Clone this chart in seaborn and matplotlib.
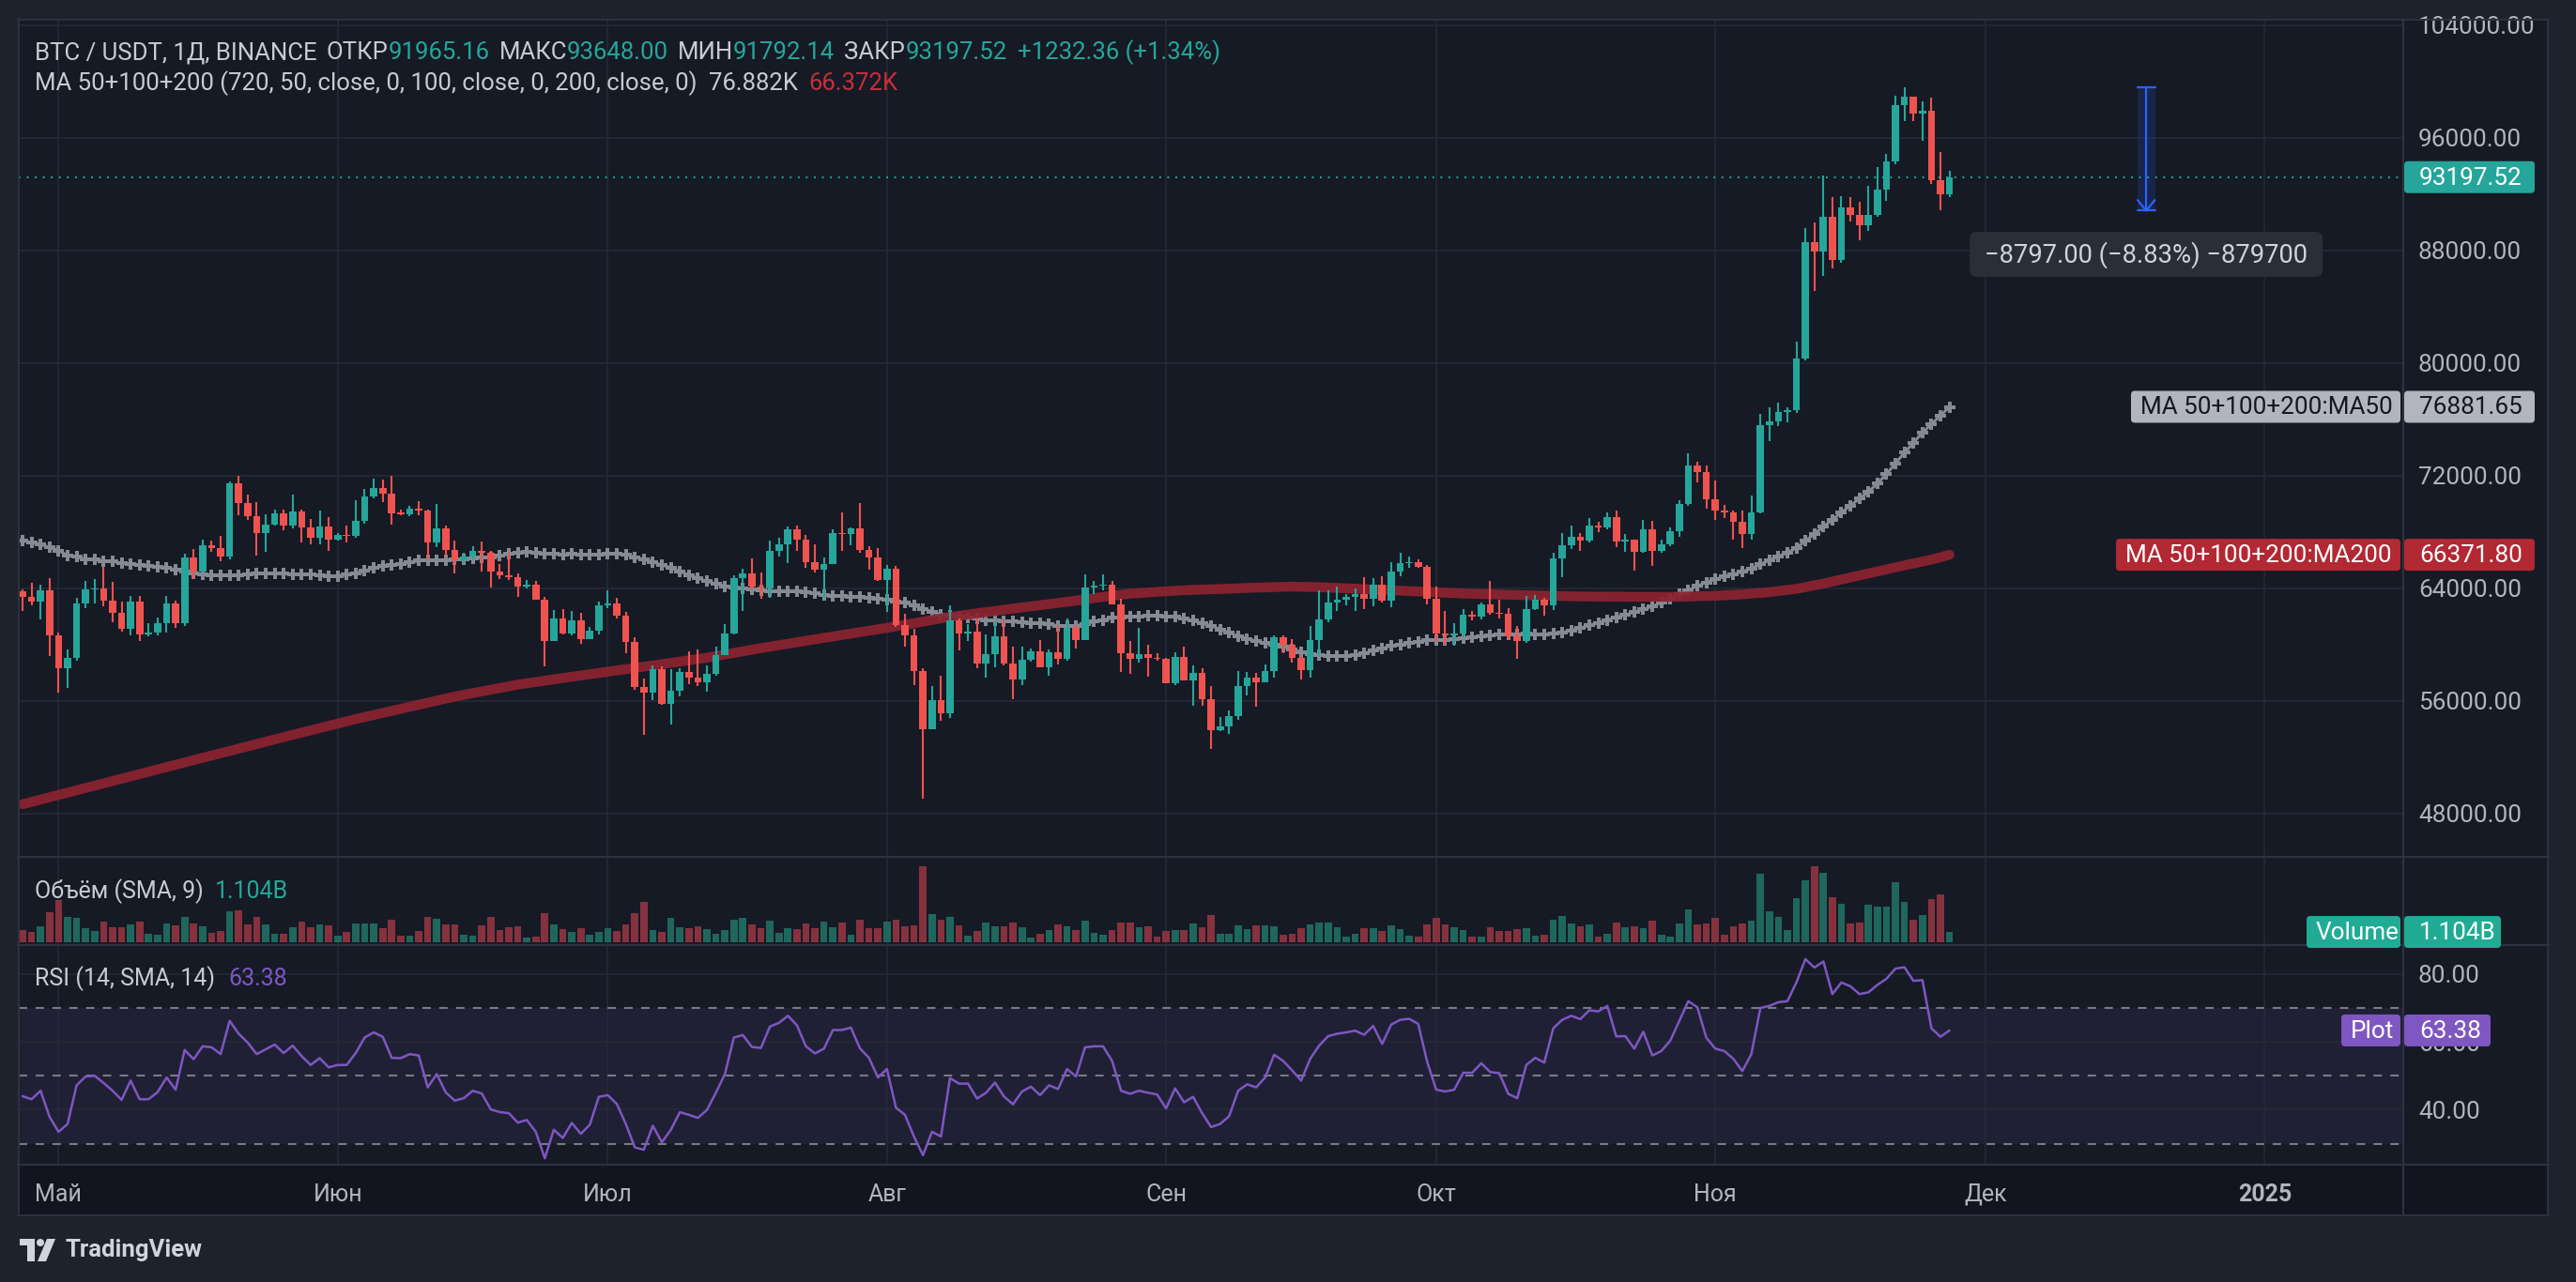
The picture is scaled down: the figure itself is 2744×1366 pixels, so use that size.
import numpy as np
import pandas as pd
import matplotlib
matplotlib.use("Agg")
import matplotlib.pyplot as plt
import seaborn as sns
from matplotlib.patches import Rectangle, FancyBboxPatch, Polygon, Circle
from matplotlib.lines import Line2D
from matplotlib.transforms import IdentityTransform

# BTC/USDT daily candles, 27 Apr - 27 Nov 2024
first_day = "2024-04-27"
first_open = 63778
closes = [
    63400, 63067, 63845, 60667, 58335, 59046, 62890, 63890, 64000, 63112,
    62268, 61112, 63045, 60734, 60846, 61512, 62912, 61512, 66156, 65156,
    67045, 66845, 66223, 71445, 70067, 69111, 67934, 68511, 69289, 68445,
    69445, 68334, 67600, 68378, 67445, 67778, 67712, 68778, 70511, 71111,
    70734, 69334, 69267, 69667, 69511, 67267, 68222, 66734, 65956, 66222,
    66622, 66489, 65156, 64934, 64800, 64111, 64223, 63178, 60267, 61845,
    60778, 61712, 60400, 60978, 62778, 62889, 62067, 60178, 57000, 56600,
    58267, 55778, 56712, 58045, 57667, 57334, 57889, 59267, 60778, 64712,
    65045, 64112, 63956, 66622, 67111, 68178, 67445, 65845, 65289, 65734,
    67889, 67845, 68222, 66734, 66156, 64600, 65378, 61400, 60667, 58112,
    54000, 56045, 55112, 61712, 60778, 60889, 58667, 59334, 60556, 58667,
    57534, 58890, 59512, 58401, 59445, 59000, 61156, 60334, 64045, 64178,
    64267, 62823, 59401, 59000, 59334, 59068, 58957, 57267, 59112, 57445,
    57956, 56112, 53934, 54178, 54890, 57045, 57667, 57334, 58112, 60512,
    59956, 59068, 58179, 60289, 61778, 62956, 63156, 63378, 63601, 63267,
    64267, 63112, 65178, 65778, 65845, 65512, 63267, 60778, 60623, 60778,
    62112, 62001, 62845, 62223, 62156, 60556, 60267, 62512, 63178, 62778,
    66112, 67045, 67623, 67401, 68445, 68334, 69045, 67334, 67423, 66601,
    68156, 66667, 67112, 68045, 70000, 72711, 72267, 70289, 69489, 69378,
    68734, 67823, 69373, 75590, 75871, 76528, 76645, 80329, 88610, 87906,
    90370, 87320, 91050, 90534, 89783, 90487, 92293, 94287, 98323, 98933,
    97689, 97924, 92997, 91965.16, 93197.52,
]
highs = [
    63934, 64378, 64223, 64712, 60846, 59668, 63290, 64512, 64667, 65490,
    64445, 63045, 63445, 63445, 61512, 61890, 63445, 63112, 66445, 66778,
    67445, 67378, 67712, 71556, 72000, 70622, 70111, 69222, 69556, 69556,
    70622, 69600, 68889, 69512, 69045, 67890, 68445, 70267, 71045, 71778,
    71711, 71956, 69600, 69845, 70178, 69600, 69956, 68445, 67378, 66489,
    66956, 67289, 66622, 65712, 66489, 65045, 64578, 64489, 63378, 62445,
    62512, 62378, 62223, 61223, 63045, 63845, 63312, 62290, 60489, 57556,
    58489, 58445, 58267, 58334, 59512, 59667, 58512, 59845, 61445, 64889,
    65378, 66111, 65112, 67378, 67556, 68400, 68445, 67778, 67111, 66156,
    68178, 69378, 68334, 70045, 66956, 66823, 65623, 65556, 62178, 61112,
    58312, 57067, 57778, 62778, 61823, 61445, 61823, 60712, 61623, 61778,
    59845, 59845, 59712, 60289, 59623, 61400, 61823, 61400, 64956, 64512,
    64956, 64512, 63223, 60223, 61156, 59956, 59401, 59068, 59445, 59845,
    58512, 58312, 57045, 54845, 55334, 58112, 58045, 57956, 58601, 60667,
    60667, 60378, 59223, 61290, 63845, 63845, 64112, 63601, 64000, 64778,
    64712, 64845, 65845, 66489, 66222, 66045, 65667, 64112, 62401, 61512,
    62490, 62401, 63001, 64490, 63178, 62556, 61290, 63445, 63490, 63334,
    66489, 67889, 68445, 67889, 68956, 68712, 69378, 69512, 67823, 67423,
    68845, 68756, 67445, 68289, 70223, 73556, 72956, 72711, 71623, 69890,
    69489, 69536, 70593, 76387, 76856, 77209, 76856, 81502, 89595, 89994,
    93302, 91777, 91871, 91777, 91472, 92575, 93935, 94874, 98979, 99613,
    98933, 98581, 98862, 94991, 93648.00,
]
lows = [
    62378, 62778, 61778, 59179, 56601, 56935, 58846, 62600, 62890, 62734,
    61601, 60934, 60667, 60223, 60557, 60667, 60823, 61179, 61334, 64623,
    65112, 66556, 65890, 66067, 69178, 68845, 66334, 66601, 68445, 68112,
    68267, 67267, 67112, 67112, 66667, 67400, 67267, 67600, 68600, 70400,
    70111, 68489, 69178, 69111, 69178, 66045, 66934, 66267, 65067, 65778,
    66045, 65156, 64067, 64667, 64600, 63400, 64000, 63178, 58445, 60267,
    60711, 60667, 60067, 60400, 60734, 62556, 61845, 59378, 56778, 53556,
    56067, 55712, 54334, 56334, 57178, 57067, 56623, 57778, 59267, 60711,
    62378, 63890, 63267, 63334, 66267, 65778, 66622, 65445, 65112, 63334,
    65734, 66667, 67067, 66489, 65334, 64512, 62334, 61267, 59845, 57112,
    49068, 54000, 54601, 54779, 59601, 60267, 58334, 57667, 58401, 58490,
    56112, 57112, 58779, 58401, 57778, 58601, 58823, 59712, 60334, 63556,
    63823, 62823, 58068, 57889, 58734, 57734, 58823, 57267, 57112, 57445,
    55667, 55667, 52601, 53823, 53667, 54623, 56401, 55601, 57334, 57667,
    59401, 58734, 57512, 57667, 59179, 61601, 62378, 62779, 62401, 62512,
    62734, 63001, 62667, 64845, 65445, 65445, 62845, 60178, 59956, 59890,
    60490, 61734, 61778, 62112, 61845, 60334, 59001, 60112, 62445, 62045,
    62445, 64778, 66778, 66667, 67223, 68000, 68156, 66889, 66601, 65267,
    66512, 65601, 66489, 66956, 67667, 69823, 71489, 69667, 68845, 69001,
    67445, 66839, 67426, 69300, 74417, 75520, 75754, 76458, 80211, 85091,
    86194, 86710, 87085, 90065, 88727, 89361, 90370, 91543, 94100, 97173,
    97173, 95765, 92716, 90816, 91792.14,
]
# volume in billions USDT
volumes_b = [
    1.30, 1.10, 1.71, 3.21, 4.52, 2.71, 2.61, 1.51, 1.20, 2.21,
    1.61, 1.61, 1.91, 2.21, 0.90, 0.80, 2.01, 1.81, 2.71, 2.01,
    1.71, 1.00, 1.20, 3.31, 3.41, 1.91, 2.71, 1.91, 0.90, 0.90,
    1.61, 2.21, 1.61, 1.91, 1.81, 0.70, 1.10, 2.01, 2.01, 2.01,
    1.51, 2.41, 0.70, 0.70, 1.20, 2.71, 2.51, 1.91, 1.91, 0.80,
    0.70, 1.81, 2.71, 1.30, 1.61, 1.71, 0.50, 0.60, 3.11, 1.91,
    1.40, 1.10, 1.51, 0.80, 1.10, 1.51, 1.20, 1.91, 3.11, 4.32,
    1.30, 1.10, 2.61, 1.61, 1.51, 1.71, 1.40, 0.90, 1.30, 2.41,
    2.61, 1.91, 1.51, 2.31, 1.00, 1.51, 1.40, 2.01, 1.51, 2.21,
    1.61, 2.11, 0.80, 2.41, 1.51, 1.51, 2.21, 2.41, 1.71, 1.81,
    8.16, 3.01, 2.41, 2.71, 1.81, 0.70, 1.20, 2.11, 1.71, 1.71,
    2.11, 1.61, 0.50, 0.90, 1.30, 1.91, 1.71, 1.30, 2.31, 1.00,
    0.80, 1.30, 2.11, 2.11, 1.61, 1.71, 0.60, 1.20, 1.30, 1.30,
    2.01, 1.61, 2.91, 0.90, 0.90, 1.81, 1.40, 1.81, 1.81, 1.71,
    0.80, 0.90, 1.51, 1.91, 2.11, 2.11, 1.61, 0.60, 0.90, 1.51,
    1.51, 1.20, 1.81, 1.40, 0.70, 0.60, 1.91, 2.61, 1.91, 1.61,
    1.30, 0.60, 0.60, 1.61, 1.20, 1.20, 1.40, 1.51, 0.70, 0.80,
    2.41, 2.81, 2.01, 1.71, 1.91, 0.60, 0.90, 2.11, 1.61, 1.71,
    1.51, 2.31, 0.80, 0.60, 2.01, 3.51, 1.91, 2.01, 2.61, 0.80,
    1.71, 2.01, 2.31, 7.33, 3.31, 2.71, 1.30, 4.72, 6.62, 8.13,
    7.43, 4.82, 4.11, 2.01, 2.11, 4.01, 3.81, 3.81, 6.42, 4.32,
    2.41, 2.91, 4.62, 5.12, 1.104,
]
rsi = [
    44.0, 43.1, 45.6, 37.9, 33.5, 35.8, 47.2, 49.8, 50.0, 47.9,
    45.6, 42.9, 48.6, 43.1, 43.1, 45.2, 49.5, 45.9, 57.6, 54.9,
    58.7, 58.4, 56.4, 66.2, 62.4, 59.8, 56.4, 57.8, 59.2, 56.7,
    58.9, 55.8, 53.2, 55.2, 52.5, 53.2, 53.2, 56.7, 61.3, 62.8,
    61.5, 55.3, 55.2, 56.4, 56.0, 46.6, 50.5, 45.1, 42.7, 43.4,
    45.6, 44.8, 40.1, 39.3, 39.0, 36.2, 37.0, 33.5, 25.7, 34.1,
    31.7, 36.1, 32.9, 35.6, 43.8, 44.3, 41.7, 35.8, 28.9, 28.2,
    35.3, 30.4, 34.1, 39.3, 38.5, 37.6, 39.9, 45.0, 50.5, 61.3,
    62.0, 58.5, 58.2, 64.5, 65.6, 67.7, 64.9, 58.7, 56.6, 58.0,
    63.5, 63.5, 64.2, 58.1, 55.3, 49.5, 52.0, 40.6, 38.5, 32.1,
    26.6, 33.5, 32.1, 49.3, 47.7, 47.7, 43.3, 45.0, 48.0, 43.9,
    41.6, 45.4, 46.8, 44.3, 47.2, 46.1, 52.0, 49.8, 58.4, 58.7,
    58.7, 54.4, 45.6, 44.7, 45.6, 45.0, 44.5, 40.4, 46.3, 42.2,
    43.8, 39.0, 34.9, 35.8, 38.1, 45.6, 47.5, 46.6, 49.5, 56.2,
    54.4, 51.6, 48.6, 55.0, 58.9, 61.7, 62.4, 62.8, 63.3, 62.1,
    64.7, 59.4, 65.1, 66.5, 66.8, 65.3, 54.1, 45.9, 45.4, 45.9,
    50.9, 50.9, 53.7, 51.1, 50.8, 44.7, 43.4, 53.2, 55.3, 53.9,
    64.0, 66.5, 67.7, 66.7, 69.3, 69.0, 70.6, 61.6, 61.7, 58.0,
    63.0, 56.0, 57.3, 60.4, 66.2, 72.0, 70.2, 61.2, 58.0, 57.3,
    55.0, 51.4, 56.4, 70.0, 70.6, 71.7, 72.0, 77.5, 84.4, 81.9,
    83.7, 74.1, 77.5, 76.4, 74.1, 74.6, 76.8, 78.6, 81.6, 82.0,
    78.0, 78.2, 64.0, 61.5, 63.38,
]
# MA50 for the first 49 days (needs history before the window), rest is computed
ma50_head = [
    67380, 67220, 67110, 66890, 66670, 66330, 66220, 66050, 66040, 65930,
    65890, 65780, 65710, 65670, 65560, 65490, 65450, 65330, 65160, 65070,
    65000, 64930, 64890, 64890, 64930, 65000, 65040, 65050, 65050, 65040,
    65000, 65000, 64960, 64930, 64850, 64820, 64960, 65070, 65220, 65440,
    65560, 65620, 65710, 65820, 65950, 65960, 66000, 66000, 66050,
]
ma50_last = 76881.65
ma200_dates = [
    "2024-04-27", "2024-05-07", "2024-05-17", "2024-05-27", "2024-06-03",
    "2024-06-14", "2024-06-21", "2024-06-28", "2024-07-05", "2024-07-12",
    "2024-07-18", "2024-07-25", "2024-08-01", "2024-08-08", "2024-08-15",
    "2024-08-21", "2024-08-25", "2024-08-28", "2024-09-01", "2024-09-04",
    "2024-09-08", "2024-09-11", "2024-09-15", "2024-09-18", "2024-09-21",
    "2024-09-27", "2024-10-04", "2024-10-11", "2024-10-17", "2024-10-24",
    "2024-10-28", "2024-11-01", "2024-11-04", "2024-11-07", "2024-11-10",
    "2024-11-13", "2024-11-16", "2024-11-19", "2024-11-22", "2024-11-25",
    "2024-11-27",
]
ma200 = [
    48650, 50300, 51950, 53580, 54700, 56300, 57150, 57800, 58420, 59060,
    59740, 60470, 61180, 61960, 62550, 63030, 63380, 63610, 63780, 63880,
    63960, 64040, 64110, 64070, 63990, 63820, 63620, 63500, 63410, 63380,
    63390, 63460, 63560, 63720, 63950, 64330, 64760, 65190, 65620, 66030,
    66371.80,
]
month_names = ["Май", "Июн", "Июл", "Авг", "Сен", "Окт", "Ноя", "Дек", "2025"]
ruler_dates = ["2024-12-18", "2024-12-20"]

# colours
OUTER = "#1e222d"
PANE = "#161a25"
STRIP = "#121520"
GRID = "#252935"
SEP = "#2e323e"
TXT = "#c8cbd3"
AXTXT = "#b2b5be"
GREEN = "#26a69a"
RED = "#ef5350"
VGREEN = "#1f675c"
VRED = "#85323e"
MA50C = "#868a95"
MA200C = "#8c2330"
PURPLE = "#7e57c2"
BLUE = "#2962ff"

W, H = 2744, 1366
FS = 18.8      # axis labels and value tags
FS_HEAD = 18.5  # legend lines
FS_PANE = 18.0  # pane titles, time axis

sns.set_theme(style="dark", rc={
    "figure.facecolor": OUTER, "axes.facecolor": PANE, "axes.edgecolor": PANE,
    "grid.color": GRID, "text.color": TXT,
})
plt.rcParams["font.family"] = ["Roboto", "DejaVu Sans"]

fig = plt.figure(figsize=(W / 100, H / 100), dpi=100)
PX = IdentityTransform()


def frac(x0, y0, x1, y1):
    return [x0 / W, 1 - y1 / H, (x1 - x0) / W, (y1 - y0) / H]


def px_rect(x0, y0, x1, y1, **kw):
    return Rectangle((x0, H - y1), x1 - x0, y1 - y0, transform=PX, **kw)


def px_line(x0, y0, x1, y1, **kw):
    fig.add_artist(Line2D([x0, x1], [H - y0, H - y1], transform=PX, **kw))


# chart frame backgrounds
fig.add_artist(px_rect(19, 20, 2715, 1295, fc=PANE, ec="none", zorder=-10))
fig.add_artist(px_rect(19, 1241, 2715, 1295, fc=STRIP, ec="none", zorder=-9))

ax_p = fig.add_axes(frac(19.8, 22, 2560, 912))
ax_v = fig.add_axes(frac(19.8, 914, 2560, 1006))
ax_r = fig.add_axes(frac(19.8, 1008, 2560, 1240))

start = pd.Timestamp(first_day)
n = len(closes)
x = np.arange(n)
c = np.array(closes, dtype=float)
o = np.r_[first_open, c[:-1]]
up = c >= o
col = np.where(up, GREEN, RED)
vcol = np.where(up, VGREEN, VRED)

month_pos = (pd.date_range("2024-05-01", periods=len(month_names), freq="MS") - start).days.values
ma200_x = (pd.to_datetime(ma200_dates) - start).days.values
ruler_x = (pd.to_datetime(ruler_dates) - start).days.values

ma50 = pd.Series(c).rolling(50).mean().values
ma50[:len(ma50_head)] = ma50_head

XL = (-0.44, 264.4)
GRID_LW = 1.2

# ---- price pane
ax_p.vlines(x, lows, highs, colors=col, lw=1.5, zorder=4)
ax_p.bar(x, np.maximum(np.abs(c - o), 90), bottom=np.minimum(o, c), width=0.8,
         color=col, linewidth=0, zorder=5)
sns.lineplot(x=x, y=ma50, ax=ax_p, color=MA50C, lw=2.2, marker="P", markersize=8.5,
             markeredgewidth=0, zorder=3, legend=False)
sns.lineplot(x=ma200_x, y=ma200, ax=ax_p, color=MA200C, lw=7.5, alpha=0.93,
             solid_capstyle="round", solid_joinstyle="round", zorder=3.5, legend=False)
ax_p.axhline(c[-1], color=GREEN, lw=1.4, ls=(0, (1.0, 3.4)), zorder=2)

# price-range ruler
r_top, r_bot = max(highs), lows[-2]
rc = ruler_x.mean()
ax_p.add_patch(Rectangle((ruler_x[0] - 0.15, r_bot), ruler_x[1] - ruler_x[0], r_top - r_bot,
                         fc=BLUE, alpha=0.16, ec="none", zorder=2))
rc -= 0.15
rx = ruler_x - 0.15
ax_p.plot([rc, rc], [r_bot, r_top], color=BLUE, lw=1.6, zorder=6)
ax_p.plot(rx, [r_top, r_top], color=BLUE, lw=1.6, zorder=6)
ax_p.plot(rx, [r_bot, r_bot], color=BLUE, lw=1.6, zorder=6)
ax_p.plot([rx[0] + 0.05, rc, rx[1] - 0.05], [r_bot + 750, r_bot, r_bot + 750],
          color=BLUE, lw=1.6, zorder=6)

ax_p.set_xlim(*XL)
ax_p.set_ylim(44980, 104313)
pticks = np.arange(48000, 104001, 8000)
ax_p.set_yticks(pticks)
ax_p.set_yticklabels([f"{v:.2f}" for v in pticks])
ax_p.yaxis.tick_right()
ax_p.tick_params(axis="y", length=0, pad=11.5, labelsize=FS, labelcolor=AXTXT)
ax_p.set_xticks(month_pos)
ax_p.tick_params(axis="x", length=0, labelbottom=False)
ax_p.grid(True, color=GRID, lw=GRID_LW)

# ---- volume pane
ax_v.bar(x, volumes_b, width=0.8, color=vcol, linewidth=0, zorder=3)
ax_v.set_xlim(*XL)
ax_v.set_ylim(-0.2, 9.04)
ax_v.set_yticks([])
ax_v.set_xticks(month_pos)
ax_v.tick_params(axis="x", length=0, labelbottom=False)
ax_v.grid(True, axis="x", color=GRID, lw=GRID_LW)

# ---- RSI pane
ax_r.axhspan(30, 70, color=PURPLE, alpha=0.1, lw=0, zorder=0.5)
for lvl in (30, 50, 70):
    ax_r.axhline(lvl, color="#787b86", lw=1.5, ls=(0, (4.3, 4.3)), zorder=1)
sns.lineplot(x=x, y=rsi, ax=ax_r, color=PURPLE, lw=1.8, zorder=3, legend=False)
ax_r.set_xlim(*XL)
ax_r.set_ylim(24.08, 88.26)
ax_r.set_yticks([40, 60, 80])
ax_r.set_yticklabels(["40.00", "60.00", "80.00"])
ax_r.yaxis.tick_right()
ax_r.tick_params(axis="y", length=0, pad=11.5, labelsize=FS, labelcolor=AXTXT)
ax_r.set_xticks(month_pos)
ax_r.set_xticklabels(month_names)
ax_r.tick_params(axis="x", length=0, pad=15, labelsize=FS_PANE, labelcolor=AXTXT)
ax_r.get_xticklabels()[-1].set_fontweight("bold")
ax_r.grid(True, color=GRID, lw=GRID_LW)

for a in (ax_p, ax_v, ax_r):
    a.set_xlabel("")
    a.set_ylabel("")
    for s in a.spines.values():
        s.set_visible(False)

# pane separators and frame
for yy in (913, 1007, 1240.5):
    px_line(19, yy, 2715, yy, color=SEP, lw=1.6)
px_line(19, 20.5, 2715, 20.5, color=SEP, lw=1.4)
px_line(19.5, 20, 19.5, 1295, color=SEP, lw=1.4)
px_line(2714, 20, 2714, 1295, color=SEP, lw=1.4)
px_line(19, 1295, 2715, 1295, color=SEP, lw=1.4)
px_line(2560, 20, 2560, 1295, color=SEP, lw=1.6)


# ---- right-hand value tags
def ypix(ax, v):
    return ax.transData.transform((0, v))[1]


def tag(x0, x1, yc, text, fc, tc, pad=16):
    fig.add_artist(FancyBboxPatch((x0, yc - 17), x1 - x0, 34,
                                  boxstyle="round,pad=0,rounding_size=4",
                                  fc=fc, ec="none", transform=PX, zorder=20))
    fig.text(x0 + pad, yc - 1, text, color=tc, fontsize=FS, ha="left", va="center",
             transform=PX, zorder=21)


y_last = ypix(ax_p, c[-1])
tag(2561, 2700, y_last, f"{c[-1]:.2f}", GREEN, "white")
y50 = ypix(ax_p, ma50_last)
tag(2270, 2557, y50, "MA 50+100+200:MA50", "#b2b5be", "#131722", pad=10)
tag(2561, 2700, y50, f"{ma50_last:.2f}", "#b2b5be", "#131722")
y200 = ypix(ax_p, ma200[-1])
tag(2254, 2557, y200, "MA 50+100+200:MA200", "#b22833", "white", pad=10)
tag(2561, 2700, y200, f"{ma200[-1]:.2f}", "#b22833", "white")
yv = ypix(ax_v, volumes_b[-1])
tag(2457, 2557, yv, "Volume", "#22ab94", "white", pad=10)
tag(2561, 2664, yv, f"{volumes_b[-1]:.3f}B", "#22ab94", "white")
yr = ypix(ax_r, rsi[-1])
tag(2494, 2557, yr, "Plot", PURPLE, "white", pad=10)
tag(2561, 2653, yr, f"{rsi[-1]:.2f}", PURPLE, "white")

# ruler readout box
diff = r_bot - r_top
pct = diff / r_top * 100
rtxt = f"{diff:.2f} ({pct:.2f}%) {diff * 100:.0f}".replace("-", "\u2212")
bx = ax_p.transData.transform((rc, 0))[0]
fig.add_artist(FancyBboxPatch((bx - 188, H - 295), 376, 48,
                              boxstyle="round,pad=0,rounding_size=8",
                              fc="#2a2e39", ec="none", transform=PX, zorder=20))
fig.text(bx, H - 272, rtxt, color="#d1d4dc", fontsize=19.7, ha="center", va="center",
         transform=PX, zorder=21)

# ---- legend lines (multi-coloured runs of text)
renderer = fig.canvas.get_renderer()


def text_run(x0, y, parts, fs):
    xx = x0
    for s, colr, gap in parts:
        t = fig.text(xx, H - y, s, color=colr, fontsize=fs, ha="left", va="center",
                     transform=PX, zorder=21)
        xx += t.get_window_extent(renderer).width + gap


chg = c[-1] - o[-1]
text_run(37, 56, [
    ("BTC / USDT, 1Д, BINANCE", TXT, 10),
    ("ОТКР", TXT, 0), (f"{o[-1]:.2f}", GREEN, 10),
    ("МАКС", TXT, 0), (f"{highs[-1]:.2f}", GREEN, 10),
    ("МИН", TXT, 0), (f"{lows[-1]:.2f}", GREEN, 10),
    ("ЗАКР", TXT, 0), (f"{c[-1]:.2f}", GREEN, 12),
    (f"+{chg:.2f} (+{chg / o[-1] * 100:.2f}%)", GREEN, 0),
], FS_HEAD)
text_run(37, 89, [
    ("MA 50+100+200 (720, 50, close, 0, 100, close, 0, 200, close, 0)", TXT, 12),
    (f"{ma50_last / 1000:.3f}K", TXT, 12),
    (f"{ma200[-1] / 1000:.3f}K", "#c62f3a", 0),
], FS_HEAD)
text_run(37, 950, [("Объём (SMA, 9)", TXT, 12), (f"{volumes_b[-1]:.3f}B", GREEN, 0)], FS_PANE)
text_run(37, 1043, [("RSI (14, SMA, 14)", TXT, 14), (f"{rsi[-1]:.2f}", PURPLE, 0)], FS_PANE)

# ---- TradingView footer
LOGO = "#d1d4dc"
fig.add_artist(px_rect(21, 1320, 37, 1327, fc=LOGO, ec="none"))
fig.add_artist(px_rect(29, 1320, 37, 1344, fc=LOGO, ec="none"))
fig.add_artist(Circle((43, H - 1324), 4, transform=PX, fc=LOGO, ec="none"))
fig.add_artist(Polygon([(40, H - 1344), (50, H - 1320), (59, H - 1320), (49, H - 1344)],
                       closed=True, transform=PX, fc=LOGO, ec="none"))
fig.text(70, H - 1332, "TradingView", color=LOGO, fontsize=18.5, fontweight="bold",
         ha="left", va="center", transform=PX)

fig.savefig("out.png", dpi=100, facecolor=OUTER)
